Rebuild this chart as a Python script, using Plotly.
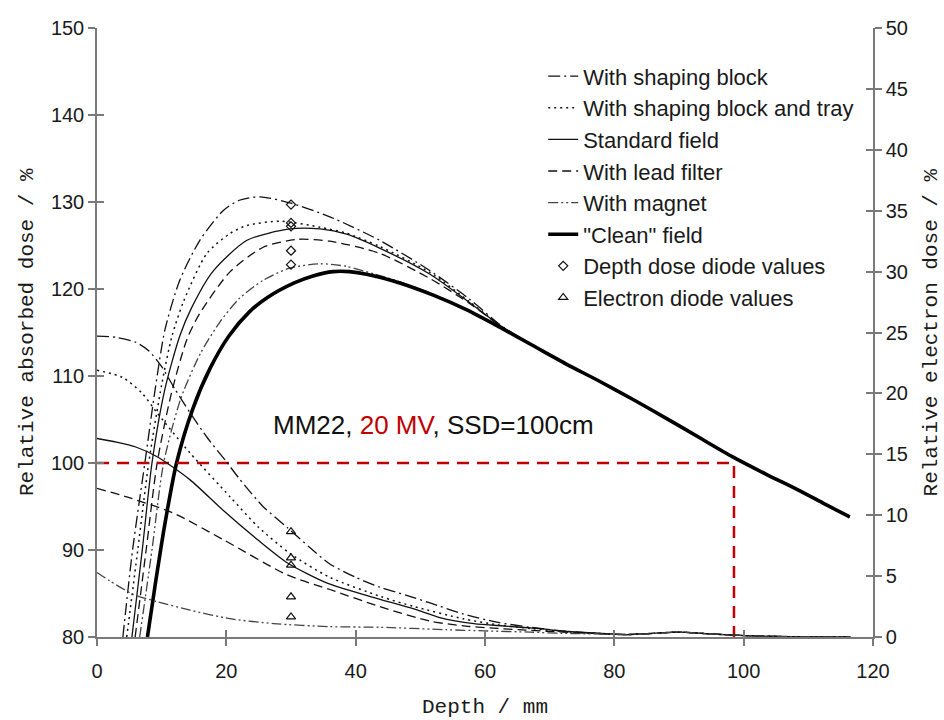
import plotly.graph_objects as go

# ---------------- depth dose curves (left axis, %) ----------------
tail_d = [67.4, 72.5, 77.7, 82.9, 88.1, 93.2, 98.3, 103.5, 108.7, 112.5, 116.4]
tail_v = [113.5, 111.4, 109.4, 107.3, 105.1, 102.9, 100.7, 98.7, 96.8, 95.3, 93.8]

block_d = [4.0, 5.5, 7.4, 9.0, 10.5, 12.8, 15.9, 19.5, 22.0, 25.2, 29.8, 36.0, 43.7, 51.5, 57.5, 62.5]
block_v = [80.0, 90.0, 100.0, 108.5, 115.3, 121.0, 125.6, 129.0, 130.2, 130.6, 129.9, 128.3, 125.6, 122.1, 118.9, 115.8]

tray_d = [4.6, 6.3, 8.0, 10.0, 11.6, 13.4, 17.0, 20.6, 23.2, 28.3, 34.5, 38.6, 43.7, 51.5, 57.5, 62.5]
tray_v = [80.0, 90.0, 100.0, 109.0, 114.6, 118.6, 124.1, 126.4, 127.3, 127.8, 127.1, 126.4, 124.9, 121.9, 118.6, 115.7]

standard_d = [5.4, 7.0, 8.5, 10.5, 12.8, 14.6, 17.9, 23.2, 29.8, 34.5, 38.6, 43.7, 51.5, 57.5, 62.5]
standard_v = [80.0, 90.0, 100.0, 108.5, 114.6, 117.8, 122.0, 125.6, 126.9, 126.9, 126.3, 124.7, 121.7, 118.5, 115.7]

lead_d = [5.9, 7.6, 9.3, 11.5, 13.9, 15.9, 20.6, 25.7, 30.9, 36.0, 43.7, 51.5, 57.5, 62.5]
lead_v = [80.0, 90.0, 100.0, 108.0, 114.2, 117.2, 122.0, 124.8, 125.7, 125.5, 124.1, 121.2, 118.4, 115.7]

magnet_d = [6.6, 8.5, 10.3, 13.0, 16.0, 19.0, 22.0, 25.7, 29.8, 34.5, 38.6, 43.0, 47.0, 52.0, 57.2, 62.3]
magnet_v = [80.0, 90.0, 100.0, 107.5, 112.6, 116.2, 118.9, 121.0, 122.4, 122.9, 122.6, 121.7, 120.8, 119.4, 117.6, 115.6]

clean_d = [7.8, 9.0, 10.5, 12.3, 14.8, 17.5, 20.4, 23.6, 26.3, 30.5, 33.4, 36.5, 39.0, 41.7, 46.8, 52.0, 57.2, 62.3]
clean_v = [80.0, 86.0, 93.0, 100.0, 106.2, 110.9, 114.6, 117.4, 119.0, 120.7, 121.5, 122.0, 122.0, 121.7, 120.7, 119.3, 117.6, 115.6]

# ---------------- electron dose curves (right axis, %) ----------------
e_tail_d = [82, 86, 90, 95, 100, 105, 110, 116.5]
e_tail_v = [0.2, 0.3, 0.4, 0.25, 0.12, 0.05, 0.0, 0.0]

block_e_d = [0, 3, 6, 8, 10, 12, 14.4, 17, 20, 22, 25.7, 29.4, 33, 36, 40, 43.7, 48, 51.5, 56.6, 62, 67, 72, 77]
block_e_v = [24.7, 24.6, 24.2, 23.5, 22.2, 20.4, 18.4, 16.4, 14.4, 13.0, 10.7, 9.0, 7.3, 6.0, 4.9, 4.1, 3.4, 2.8, 1.9, 1.2, 0.8, 0.5, 0.3]

tray_e_d = [0, 4, 7, 9.3, 14.4, 20.6, 25, 30, 36, 44, 49, 56.6, 62, 67, 72, 77]
tray_e_v = [21.9, 21.3, 20.0, 18.4, 15.1, 11.5, 9.0, 6.8, 4.9, 3.3, 2.5, 1.5, 1.0, 0.7, 0.45, 0.3]

standard_e_d = [0, 3, 6, 9.3, 14.4, 19.5, 24.8, 29.4, 35.7, 42.4, 49, 53, 58.3, 63, 68, 73, 78]
standard_e_v = [16.3, 16.0, 15.6, 14.8, 12.9, 10.4, 8.0, 6.1, 4.4, 3.3, 2.3, 1.6, 1.1, 0.9, 0.7, 0.45, 0.3]

lead_e_d = [0, 4.6, 11.7, 19.5, 29.4, 36, 43.7, 51.5, 57, 62, 67, 72, 77]
lead_e_v = [12.2, 11.5, 10.2, 8.0, 5.1, 3.9, 2.5, 1.3, 0.9, 0.7, 0.55, 0.4, 0.3]

magnet_e_d = [0, 2, 5.6, 9.3, 14.4, 20.6, 27.3, 36, 43.7, 54, 60, 67, 72, 77]
magnet_e_v = [5.3, 4.6, 3.5, 2.9, 2.2, 1.5, 1.1, 0.85, 0.8, 0.6, 0.5, 0.4, 0.3, 0.25]

# ---------------- diode measurements at 30 mm ----------------
diode_depth = [30, 30, 30, 30, 30]
depth_dose_diode = [129.7, 127.6, 127.2, 124.4, 122.8]
electron_diode = [8.65, 6.5, 5.9, 3.3, 1.65]

# reference point on the clean field curve
ref_depth = 98.5
ref_dose = 100.0

names = ["With shaping block", "With shaping block and tray", "Standard field",
         "With lead filter", "With magnet", '"Clean" field']

DDOT = "10px,3px,2px,3px,2px,3px"
styles = [
    dict(color="#111", width=1.3, dash="12px,4px,2px,4px"),
    dict(color="#111", width=1.5, dash="2px,4px"),
    dict(color="#111", width=1.3, dash="solid"),
    dict(color="#111", width=1.3, dash="9px,5px"),
    dict(color="#444", width=1.3, dash=DDOT),
    dict(color="#000", width=3.6, dash="solid"),
]

dose_sets = [
    (block_d + tail_d, block_v + tail_v),
    (tray_d + tail_d, tray_v + tail_v),
    (standard_d + tail_d, standard_v + tail_v),
    (lead_d + tail_d, lead_v + tail_v),
    (magnet_d + tail_d, magnet_v + tail_v),
    (clean_d + tail_d, clean_v + tail_v),
]
electron_sets = [
    (block_e_d + e_tail_d, block_e_v + e_tail_v),
    (tray_e_d + e_tail_d, tray_e_v + e_tail_v),
    (standard_e_d + e_tail_d, standard_e_v + e_tail_v),
    (lead_e_d + e_tail_d, lead_e_v + e_tail_v),
    (magnet_e_d + e_tail_d, magnet_e_v + e_tail_v),
]

fig = go.Figure()

for name, (dx, dy), st in zip(names, dose_sets, styles):
    fig.add_trace(go.Scatter(x=dx, y=dy, mode="lines", name=name, line=st,
                             line_shape="spline", line_smoothing=0.7,
                             xaxis="x", yaxis="y"))

fig.add_trace(go.Scatter(x=diode_depth, y=depth_dose_diode, mode="markers",
                         name="Depth dose diode values", xaxis="x", yaxis="y3",
                         marker=dict(symbol="diamond-open", size=7, color="#111",
                                     line=dict(width=1.2, color="#111"))))
fig.add_trace(go.Scatter(x=diode_depth, y=electron_diode, mode="markers",
                         name="Electron diode values", xaxis="x2", yaxis="y4",
                         marker=dict(symbol="triangle-up-open", size=8, color="#111",
                                     line=dict(width=1.2, color="#111"))))

for (ex, ey), st in zip(electron_sets, styles):
    fig.add_trace(go.Scatter(x=ex, y=ey, mode="lines", showlegend=False, line=st,
                             line_shape="spline", line_smoothing=0.7,
                             xaxis="x2", yaxis="y2"))

fig.add_trace(go.Scatter(x=[0, ref_depth, ref_depth], y=[ref_dose, ref_dose, 80],
                         mode="lines", showlegend=False, xaxis="x", yaxis="y",
                         line=dict(color="#C00000", width=2.5, dash="12px,8px")))

AX = "#7a7a7a"
TICKFONT = dict(family="Liberation Sans, Arial", size=20, color="#1a1a1a")
common = dict(showgrid=False, zeroline=False, showline=True, linecolor=AX, linewidth=1.5,
              tickcolor=AX, tickwidth=1.5, ticklen=7)

fig.update_layout(
    width=944, height=720,
    margin=dict(l=97, r=71, t=28, b=83),
    paper_bgcolor="white", plot_bgcolor="white",
    xaxis=dict(range=[0, 120], dtick=20, ticks="outside", tickfont=TICKFONT,
               ticklabelstandoff=8, **common),
    xaxis2=dict(range=[0, 120], dtick=20, ticks="inside", overlaying="x",
                showticklabels=False, **common),
    yaxis=dict(range=[80, 150], dtick=10, ticks="outside", tickfont=TICKFONT, **common),
    yaxis3=dict(range=[80, 150], dtick=10, ticks="inside", overlaying="y", side="left",
                showticklabels=False, **common),
    yaxis2=dict(range=[0, 50], dtick=5, ticks="outside", overlaying="y", side="right",
                tickfont=TICKFONT, **common),
    yaxis4=dict(range=[0, 50], dtick=5, ticks="inside", overlaying="y", side="right",
                showticklabels=False, **common),
    legend=dict(x=0.575, y=0.955, xanchor="left", yanchor="top",
                font=dict(family="Liberation Sans, Arial", size=22, color="#1a1a1a"),
                bgcolor="rgba(0,0,0,0)", tracegroupgap=0),
    showlegend=True,
)

TITLEFONT = dict(family="Liberation Mono, Courier New, monospace", size=21, color="#1a1a1a")
fig.add_annotation(text="Depth / mm", xref="paper", yref="paper", x=0.5, y=-0.116,
                   showarrow=False, font=TITLEFONT, yanchor="middle")
fig.add_annotation(text="Relative absorbed dose / %", xref="paper", yref="paper",
                   x=-0.0895, y=0.5, textangle=-90, showarrow=False, font=TITLEFONT,
                   xanchor="center", yanchor="middle")
fig.add_annotation(text="Relative electron dose / %", xref="paper", yref="paper",
                   x=1.076, y=0.5, textangle=-90, showarrow=False, font=TITLEFONT,
                   xanchor="center", yanchor="middle")
fig.add_annotation(text='MM22, <span style="color:#C00000">20 MV</span>, SSD=100cm',
                   xref="x", yref="y", x=52, y=104.4, showarrow=False,
                   font=dict(family="Liberation Sans, Arial", size=26, color="#111"))

fig.write_html("out.html")
